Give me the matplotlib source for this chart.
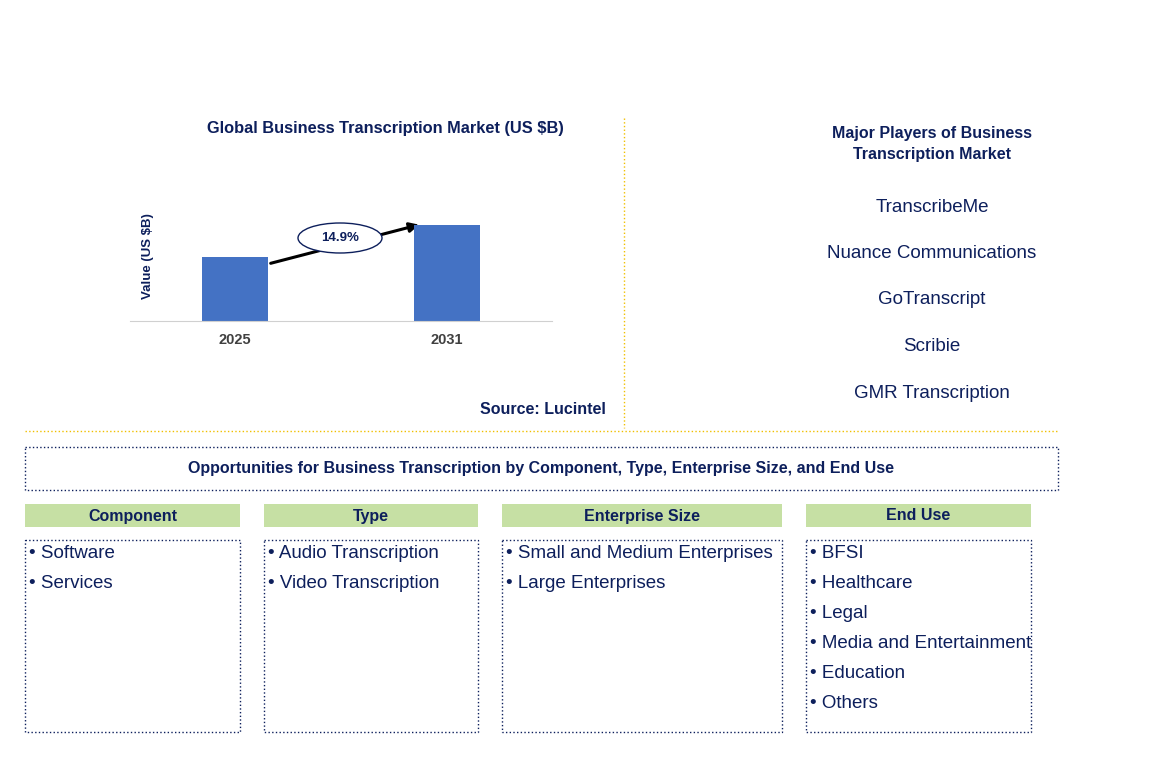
import matplotlib.pyplot as plt
from matplotlib.patches import Rectangle, Ellipse

plt.rcParams['font.family'] = 'Liberation Sans'

years = ['2025', '2031']
values = [2.0, 3.0]
cagr = '14.9%'
players = ['TranscribeMe', 'Nuance Communications', 'GoTranscript', 'Scribie', 'GMR Transcription']
segments = ['Component', 'Type', 'Enterprise Size', 'End Use']
segment_items = [['Software', 'Services'],
                 ['Audio Transcription', 'Video Transcription'],
                 ['Small and Medium Enterprises', 'Large Enterprises'],
                 ['BFSI', 'Healthcare', 'Legal', 'Media and Entertainment', 'Education', 'Others']]

W, H = 1153, 775
navy = '#0d1f5c'
fig = plt.figure(figsize=(W / 100, H / 100), dpi=100)

# overlay axes in pixel coordinates
ov = fig.add_axes([0, 0, 1, 1])
ov.set_xlim(0, W)
ov.set_ylim(H, 0)
ov.axis('off')

# bar chart axes
bx0, bx1, by0, by1 = 130, 552, 150, 321
bax = fig.add_axes([bx0 / W, 1 - by1 / H, (bx1 - bx0) / W, (by1 - by0) / H])
bax.bar([0, 1], values, width=0.311, color='#4472c4')
bax.set_xlim(-0.495, 1.495)
bax.set_ylim(0, 5.34)
bax.set_xticks([0, 1])
bax.set_xticklabels(years, fontsize=10.5, fontweight='bold', color='#404040')
bax.tick_params(length=0, pad=9)
bax.set_yticks([])
for s in ['top', 'right', 'left']:
    bax.spines[s].set_visible(False)
bax.spines['bottom'].set_color('#d0d0d0')
bax.patch.set_alpha(0)

ov.text(385, 128, 'Global Business Transcription Market (US $B)', ha='center', va='center',
        fontsize=11.8, fontweight='bold', color=navy)
ov.text(148, 256, 'Value (US $B)', rotation=90, ha='center', va='center',
        fontsize=9.5, fontweight='bold', color=navy)
ov.annotate('', xy=(422, 224), xytext=(268, 264),
            arrowprops=dict(arrowstyle='-|>', lw=2.2, color='black', mutation_scale=14))
ov.add_patch(Ellipse((340, 238), 84, 30, facecolor='white', edgecolor=navy, lw=1, zorder=3))
ov.text(340, 238, cagr, ha='center', va='center', fontsize=9.5, fontweight='bold', color=navy, zorder=4)
ov.text(606, 410, 'Source: Lucintel', ha='right', va='center', fontsize=11.5, fontweight='bold', color=navy)

# separators
ov.plot([624, 624], [118, 428], ls=':', color='#f0c000', lw=1)
ov.plot([25, 1058], [431, 431], ls=':', color='#f0c000', lw=1)

# major players
ov.text(932, 144, 'Major Players of Business\nTranscription Market', ha='center', va='center',
        fontsize=11.5, fontweight='bold', color=navy, linespacing=1.45)
for i, p in enumerate(players):
    ov.text(932, 207 + i * 46.5, p, ha='center', va='center', fontsize=13.5, color=navy)

# opportunities box
ov.add_patch(Rectangle((25, 447), 1033, 43, fill=False, ls=':', edgecolor=navy, lw=1))
ov.text(541, 468, 'Opportunities for Business Transcription by Component, Type, Enterprise Size, and End Use',
        ha='center', va='center', fontsize=11.5, fontweight='bold', color=navy)

cols = [(25, 240), (264, 478), (502, 782), (806, 1031)]
for (x0, x1), seg, items in zip(cols, segments, segment_items):
    ov.add_patch(Rectangle((x0, 504), x1 - x0, 23, facecolor='#c6e0a4', edgecolor='none'))
    ov.text((x0 + x1) / 2, 516, seg, ha='center', va='center', fontsize=11.5, fontweight='bold', color=navy)
    ov.add_patch(Rectangle((x0, 540), x1 - x0, 192, fill=False, ls=':', edgecolor=navy, lw=1))
    for j, it in enumerate(items):
        ov.text(x0 + 4, 553 + j * 30, '\u2022 ' + it, ha='left', va='center', fontsize=13.5, color=navy)

fig.savefig('out.png', dpi=100)
